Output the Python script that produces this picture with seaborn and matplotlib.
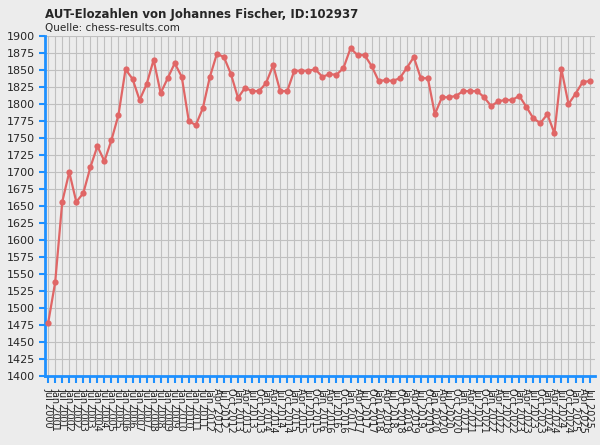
import numpy as np
import pandas as pd
import matplotlib
matplotlib.use("Agg")
import matplotlib.pyplot as plt
import seaborn as sns

# rating periods: half-yearly until Jan 2012, then quarterly
periods = []
for year in range(2000, 2012):
    periods.append(f"Jul {year}")
    periods.append(f"Jan {year + 1}")
for year in range(2012, 2026):
    for m in ("Jan", "Apr", "Jul", "Oct"):
        if year == 2012 and m == "Jan":
            continue
        if year == 2025 and m == "Oct":
            break
        periods.append(f"{m} {year}")

elo = [1478, 1538, 1656, 1700, 1656, 1669, 1707, 1738, 1716, 1747,
       1784, 1851, 1837, 1806, 1829, 1865, 1816, 1838, 1860, 1840,
       1775, 1769, 1794, 1840, 1874, 1869, 1844, 1809, 1824, 1819,
       1819, 1831, 1857, 1819, 1819, 1849, 1849, 1849, 1851, 1840,
       1844, 1843, 1853, 1882, 1872, 1872, 1856, 1834, 1835, 1834,
       1838, 1853, 1869, 1838, 1838, 1785, 1810, 1810, 1812, 1819,
       1819, 1819, 1810, 1797, 1804, 1806, 1806, 1812, 1796, 1779,
       1772, 1785, 1757, 1851, 1800, 1815, 1832, 1834]

df = pd.DataFrame({"idx": np.arange(len(elo)), "period": periods, "elo": elo})

sns.set_style("whitegrid")
plt.rcParams["font.family"] = ["DejaVu Sans"]

fig = plt.figure(figsize=(6, 4.45), dpi=100, facecolor="#ececec")
ax = fig.add_axes([0.075, 0.155, 0.917, 0.764])
ax.set_facecolor("#ececec")

sns.lineplot(data=df, x="idx", y="elo", ax=ax, color="#e06666", lw=1.6,
             marker="o", markersize=4.5, markeredgewidth=0, zorder=3)

ax.set_xlim(-0.45, len(elo) - 0.2)
ax.set_ylim(1400, 1900)
ax.set_yticks(np.arange(1400, 1901, 25))
ax.set_xticks(df["idx"])
ax.set_xticklabels(df["period"], rotation=-90, fontsize=7, ha="center")
ax.tick_params(axis="y", labelsize=8, color="#1e90ff", length=4, width=1.5, direction="out", left=True)
ax.tick_params(axis="x", color="#1e90ff", length=5, width=1.5, direction="out", bottom=True)
ax.grid(True, color="#c0c0c0", lw=0.8)
for s in ("top", "right"):
    ax.spines[s].set_visible(False)
for s in ("left", "bottom"):
    ax.spines[s].set_color("#1e90ff")
    ax.spines[s].set_linewidth(2)
ax.set_xlabel("")
ax.set_ylabel("")

fig.text(0.075, 0.968, "AUT-Elozahlen von Johannes Fischer, ID:102937",
         fontsize=8.5, fontweight="bold", va="center")
fig.text(0.075, 0.937, "Quelle: chess-results.com", fontsize=7.5, va="center")

fig.savefig("out.png", dpi=100, facecolor=fig.get_facecolor())
